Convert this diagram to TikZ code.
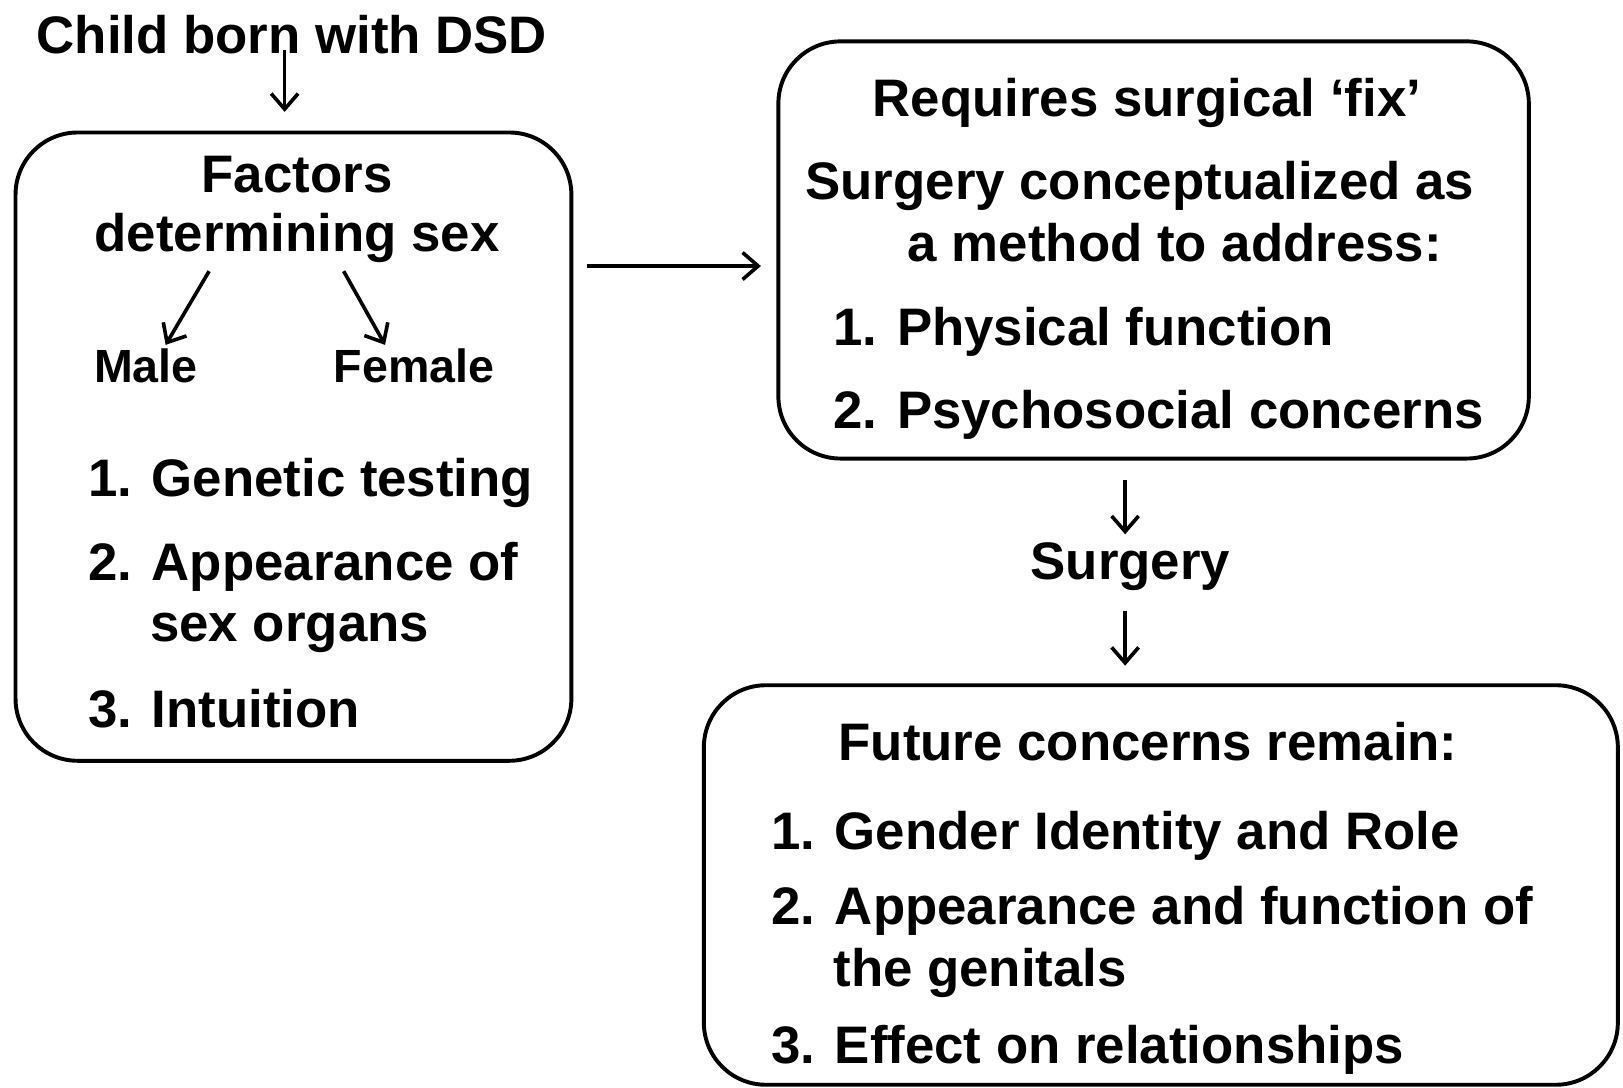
\documentclass[tikz,border=0pt]{standalone}
\usepackage{fontspec}
\setmainfont{Liberation Sans}
\usetikzlibrary{arrows.meta,calc}
\tikzset{
  txt/.style={inner sep=0pt, font=\fontsize{51}{60}\selectfont\bfseries},
  smalltxt/.style={inner sep=0pt, font=\fontsize{45}{54}\selectfont\bfseries},
  box/.style={draw, line width=3.8pt, rounded corners=60pt, inner sep=0pt},
  arr/.style={line width=3.5pt, -{Straight Barb[length=15pt,width=26pt,line width=3.5pt]}}
}
\begin{document}
\begin{tikzpicture}[x=1pt,y=-1pt]
\useasboundingbox (0,0) rectangle (1568,1051);
% boxes
\node[box, minimum width=537pt, minimum height=607pt] (leftbox) at (283.5,431.5) {};
\node[box, minimum width=725pt, minimum height=403pt] (rightbox) at (1114.5,241.5) {};
\node[box, minimum width=883pt, minimum height=386pt] (botbox) at (1121.5,855) {};
% left column
\node[txt, anchor=base] (child) at (282,52) {Child born with DSD};
\node[txt, anchor=base] (factors) at (287,186) {Factors};
\node[txt, anchor=base] (det) at (287,243) {determining sex};
\node[smalltxt, anchor=base] (male) at (141,370) {Male};
\node[smalltxt, anchor=base] (female) at (400,370) {Female};
\node[txt, anchor=base west] (l1) at (85,480) {1. Genetic testing};
\node[txt, anchor=base west] (l2) at (85,561) {2. Appearance of};
\node[txt, anchor=base west] (l2b) at (145,620) {sex organs};
\node[txt, anchor=base west] (l3) at (85,703) {3. Intuition};
% right top
\node[txt, anchor=base] (req) at (1108,113) {Requires surgical ‘fix’};
\node[txt, anchor=base west] (conc) at (778,193) {Surgery conceptualized as};
\node[txt, anchor=base west] (meth) at (877,253) {a method to address:};
\node[txt, anchor=base west] (r1) at (805,334) {1. Physical function};
\node[txt, anchor=base west] (r2) at (805,414) {2. Psychosocial concerns};
% middle
\node[txt, anchor=base] (surg) at (1092,560) {Surgery};
% bottom
\node[txt, anchor=base west] (fut) at (810,735) {Future concerns remain:};
\node[txt, anchor=base west] (b1) at (745,821) {1. Gender Identity and Role};
\node[txt, anchor=base west] (b2) at (745,893) {2. Appearance and function of};
\node[txt, anchor=base west] (b2b) at (805,953) {the genitals};
\node[txt, anchor=base west] (b3) at (745,1027) {3. Effect on relationships};
% connectors
\draw[arr] ($(child.south)+(-7,-4)$) -- ($(leftbox.north -| child.south)+(-7,-18)$);
\draw[arr] ($(det.south)+(-85,8)$) -- ($(male.north)+(19,-4)$);
\draw[arr] ($(det.south)+(45,8)$) -- ($(female.north)+(-28,-4)$);
\draw[arr] ($(leftbox.east |- rightbox.west)+(13,15.5)$) -- ($(rightbox.west)+(-15,15.5)$);
\draw[arr] ($(rightbox.south -| surg.north)+(-5,19)$) -- ($(surg.north)+(-5,-8)$);
\draw[arr] ($(surg.south)+(-5,19)$) -- ($(botbox.north -| surg.south)+(-5,-17)$);
\end{tikzpicture}
\end{document}
